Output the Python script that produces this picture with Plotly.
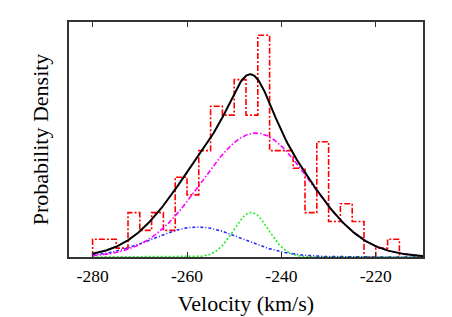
import numpy as np
import plotly.graph_objects as go

# Histogram: left bin edges (km/s) and counts per 2.5 km/s bin
bin_left = [-280, -277.5, -275, -272.5, -270, -267.5, -265, -262.5, -260, -257.5,
            -255, -252.5, -250, -247.5, -245, -242.5, -240, -237.5, -235, -232.5,
            -230, -227.5, -225, -222.5, -220, -217.5]
counts = [2, 2, 1, 5, 3, 5, 3, 9, 7, 12,
          17, 16, 20, 16, 25, 12, 12, 10, 5, 13,
          4, 6, 4, 0, 1, 2]
bin_width = 2.5

# Gaussian mixture components (fitted model): weight, mean, sigma
comp_names = ["main", "broad", "narrow"]
comp_weight = [0.76, 0.152, 0.088]
comp_mean = [-245.4, -257.8, -246.4]
comp_sigma = [11.5, 9.5, 3.7]
comp_colors = ["#ff00ff", "#2a2aff", "#22ee22"]
comp_dash = ["5px,2px,1.5px,2px", "3px,2px,1px,2px", "2px,2px"]

tick_vals = [-280, -260, -240, -220]
tick_text = ["-280", "-260", "-240", "-220"]

n_tot = sum(counts)
dens = [c / (n_tot * bin_width) for c in counts]
hx = [bin_left[0]] + bin_left + [bin_left[-1] + bin_width, bin_left[-1] + bin_width]
hy = [0] + dens + [dens[-1], 0]

xs = np.linspace(-280, -210, 400)
comps = [w / (s * np.sqrt(2 * np.pi)) * np.exp(-0.5 * ((xs - m) / s) ** 2)
         for w, m, s in zip(comp_weight, comp_mean, comp_sigma)]
total = sum(comps)

fig = go.Figure()
fig.add_trace(go.Scatter(x=hx, y=hy, mode="lines", line_shape="hv",
                         line=dict(color="#ff0000", width=1.6, dash="6px,2px,2px,2px"),
                         name="data"))
for i in [2, 1, 0]:
    fig.add_trace(go.Scatter(x=xs, y=comps[i], mode="lines",
                             line=dict(color=comp_colors[i], width=1.6, dash=comp_dash[i]),
                             name=comp_names[i]))
fig.add_trace(go.Scatter(x=xs, y=total, mode="lines",
                         line=dict(color="black", width=2), name="total"))

font_family = "Liberation Serif"
fig.update_layout(
    template="none",
    width=452, height=317,
    margin=dict(l=61, r=37, t=14, b=68, autoexpand=False),
    paper_bgcolor="white", plot_bgcolor="white",
    showlegend=False,
    font=dict(family=font_family, size=18.5, color="black"),
)
fig.update_xaxes(
    range=[-285, -210], tickvals=tick_vals, ticktext=tick_text,
    ticks="inside", ticklen=5, tickcolor="#333", tickwidth=1,
    showline=True, linecolor="#333", linewidth=1.5, mirror="ticks",
    showgrid=False, zeroline=False, automargin=False,
    ticklabelstandoff=2,
    title=dict(text="Velocity (km/s)", standoff=11),
    tickfont=dict(size=17.5),
)
fig.update_yaxes(
    range=[0, 0.05], showticklabels=False, ticks="",
    showline=True, linecolor="#333", linewidth=1.5, mirror=True,
    showgrid=False, zeroline=False, automargin=False,
    title=dict(text="Probability Density", standoff=13),
)
fig.write_html("out.html")
